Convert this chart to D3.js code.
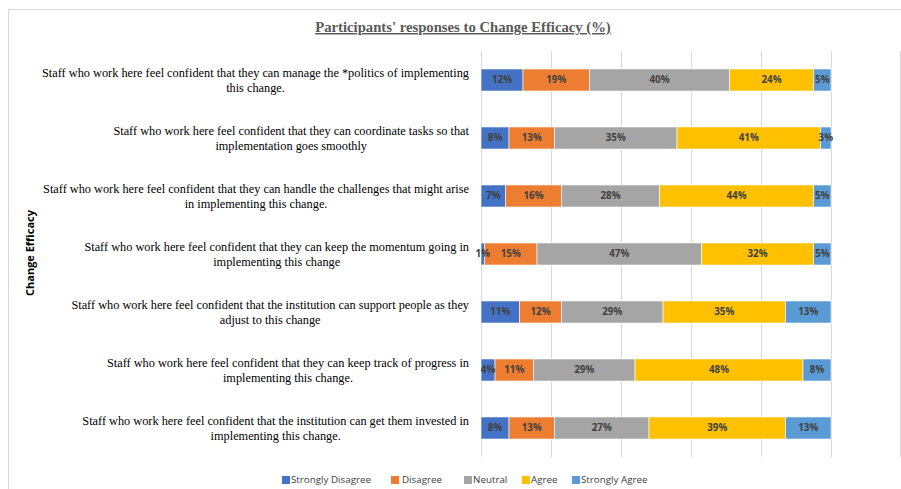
<!DOCTYPE html>
<html>
<head>
<meta charset="utf-8">
<script src="https://cdn.jsdelivr.net/npm/d3@7"></script>
<style>
  body { margin: 0; background: #fff; }
  svg { display: block; }
</style>
</head>
<body>
<svg id="chart_svg" width="901" height="489"></svg>
<script>
// items, top to bottom (each label kept as its two wrapped lines)
var items = [
  ["Staff who work here feel confident that they can manage the *politics of implementing", "this change."],
  ["Staff who work here feel confident that they can coordinate tasks so that", "implementation goes smoothly"],
  ["Staff who work here feel confident that they can handle the challenges that might arise", "in implementing this change."],
  ["Staff who work here feel confident that they can keep the momentum going in", "implementing this change"],
  ["Staff who work here feel confident that the institution can support people as they", "adjust to this change"],
  ["Staff who work here feel confident that they can keep track of progress in", "implementing this change."],
  ["Staff who work here feel confident that the institution can get them invested in", "implementing this change."]
];
var responses = ["Strongly Disagree", "Disagree", "Neutral", "Agree", "Strongly Agree"];
var stronglyDisagree = [12, 8, 7, 1, 11, 4, 8];
var disagree = [19, 13, 16, 15, 12, 11, 13];
var neutral = [40, 35, 28, 47, 29, 29, 27];
var agree = [24, 41, 44, 32, 35, 48, 39];
var stronglyAgree = [5, 3, 5, 5, 13, 8, 13];
var xTicks = [0, 20, 40, 60, 80, 100];

drawChart();

function drawChart() {
  var svg = d3.select('#chart_svg');
  var colors = d3.scaleOrdinal().domain(responses)
    .range(["#4472C4", "#ED7D31", "#A5A5A5", "#FFC000", "#5B9BD5"]);

  var rows = items.map(function (lines, i) {
    return {
      key: "q" + i, lines: lines,
      "Strongly Disagree": stronglyDisagree[i], "Disagree": disagree[i], "Neutral": neutral[i],
      "Agree": agree[i], "Strongly Agree": stronglyAgree[i]
    };
  });

  var x = d3.scaleLinear().domain([0, 100]).range([481, 831]);
  var y = d3.scaleBand().domain(rows.map(d => d.key)).range([51, 457])
    .paddingInner(0.62).paddingOuter(0.31);

  // outer frame
  svg.append("path").attr("d", "M8.5,489 V9.5 H901")
    .attr("fill", "none").attr("stroke", "#d9d9d9");
  svg.append("line").attr("x1", 900.5).attr("x2", 900.5).attr("y1", 51).attr("y2", 457)
    .attr("stroke", "#d9d9d9");

  // title
  svg.append("text")
    .attr("x", 463).attr("y", 32)
    .attr("text-anchor", "middle")
    .style("font-family", "'Liberation Serif', 'Times New Roman', serif")
    .style("font-size", "14.7px").style("font-weight", "bold")
    .style("text-decoration", "underline")
    .attr("fill", "#595959")
    .text("Participants' responses to Change Efficacy (%)");

  // gridlines
  svg.append("g").selectAll("line").data(xTicks).enter().append("line")
    .attr("x1", d => x(d) + 0.5).attr("x2", d => x(d) + 0.5)
    .attr("y1", 51).attr("y2", 457)
    .attr("stroke", "#d9d9d9");

  // stacked bars
  var series = d3.stack().keys(responses)(rows);
  svg.append("g").selectAll("g").data(series).enter().append("g")
    .attr("fill", d => colors(d.key))
    .selectAll("rect").data(d => d).enter().append("rect")
    .attr("x", d => x(d[0]))
    .attr("y", d => y(d.data.key))
    .attr("width", d => x(d[1]) - x(d[0]))
    .attr("height", y.bandwidth())
    .attr("stroke", "#fff").attr("stroke-width", 0.6);

  // value labels on top of every bar
  svg.append("g").selectAll("g").data(series).enter().append("g")
    .selectAll("text").data(d => d).enter().append("text")
    .attr("x", d => (x(d[0]) + x(d[1])) / 2)
    .attr("y", d => y(d.data.key) + y.bandwidth() / 2)
    .attr("dy", "0.35em")
    .attr("text-anchor", "middle")
    .style("font-family", "'Open Sans', 'DejaVu Sans', sans-serif")
    .style("font-size", "9.8px").style("font-weight", "bold")
    .attr("fill", "#404040")
    .text(d => (d[1] - d[0]) + "%");

  // category labels: centred block, right edge against the axis
  var labels = svg.append("g").selectAll("text").data(rows).enter().append("text")
    .style("font-family", "'Liberation Serif', 'Times New Roman', serif")
    .style("font-size", "12.3px")
    .attr("fill", "#000")
    .attr("text-anchor", "middle");
  labels.each(function (d) {
    var t = d3.select(this);
    var cy = y(d.key) + y.bandwidth() / 2;
    d.lines.forEach(function (ln, j) {
      t.append("tspan").attr("y", cy - 7.5 + j * 15).attr("dy", "0.35em").text(ln);
    });
    var w = d3.max(t.selectAll("tspan").nodes(), n => n.getComputedTextLength());
    t.selectAll("tspan").attr("x", 469 - w / 2);
  });

  // y axis title
  svg.append("text")
    .attr("transform", "translate(34,253) rotate(-90)")
    .attr("text-anchor", "middle")
    .style("font-family", "'Open Sans', 'DejaVu Sans', sans-serif")
    .style("font-size", "11px").style("font-weight", "bold")
    .attr("fill", "#000")
    .text("Change Efficacy");

  // legend
  var legendX = [282, 391, 464, 522, 572];
  var legend = svg.append("g").selectAll("g").data(responses).enter().append("g")
    .attr("transform", (d, i) => "translate(" + legendX[i] + ",476)");
  legend.append("rect").attr("width", 8).attr("height", 8).attr("fill", d => colors(d));
  legend.append("text")
    .attr("x", (d, i) => i === 1 ? 11 : 9).attr("y", 4).attr("dy", "0.35em")
    .style("font-family", "'Open Sans', 'DejaVu Sans', sans-serif")
    .style("font-size", "9.8px")
    .attr("fill", "#404040")
    .text(d => d);
}
</script>
</body>
</html>
